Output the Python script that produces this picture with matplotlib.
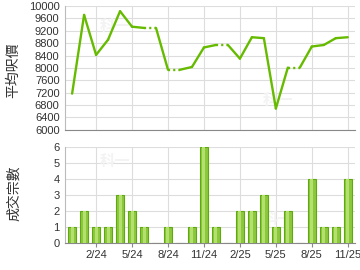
import numpy as np
import matplotlib
matplotlib.use("Agg")
import matplotlib.pyplot as plt

plt.rcParams['font.family'] = ['Liberation Sans', 'Noto Sans CJK TC', 'DejaVu Sans']

months = ["12/23", "1/24", "2/24", "3/24", "4/24", "5/24", "6/24", "7/24", "8/24", "9/24",
          "10/24", "11/24", "12/24", "1/25", "2/25", "3/25", "4/25", "5/25", "6/25", "7/25",
          "8/25", "9/25", "10/25", "11/25"]
avg_price = [7170, 9710, 8420, 8910, 9830, 9330, 9290, None, 7940, None,
             8030, 8660, 8740, None, 8300, 8990, 8960, 6690, 8010, None,
             8690, 8740, 8960, 8990]
deals = [1, 2, 1, 1, 3, 2, 1, 0, 1, 0, 1, 6, 1, 0, 2, 2, 3, 1, 2, 0, 4, 1, 1, 4]
tick_labels = ["2/24", "5/24", "8/24", "11/24", "2/25", "5/25", "8/25", "11/25"]

line_color = "#66bb00"
grid_color = "#dddddd"
text_color = "#333333"

# months with no deals keep the previous price
filled = []
for p in avg_price:
    filled.append(p if p is not None else filled[-1])

x = np.arange(len(months))
tick_pos = [months.index(t) for t in tick_labels]

fig = plt.figure(figsize=(3.6, 2.7), dpi=100)
ax1 = fig.add_axes([0.181, 0.519, 0.805, 0.459])
ax2 = fig.add_axes([0.181, 0.100, 0.805, 0.356])

for i in range(len(x) - 1):
    style = (0, (0.9, 1.3)) if avg_price[i + 1] is None else "-"
    ax1.plot(x[i:i + 2], filled[i:i + 2], color=line_color, lw=1.7, ls=style,
             solid_capstyle="round", zorder=3)

ax1.set_ylim(6000, 10000)
ax1.set_yticks(np.arange(6000, 10001, 400))
ax1.set_xticklabels([])

ax2.bar(x, deals, width=0.68, color="#8cc83c", edgecolor="#5fa810", linewidth=0.8, zorder=3)
ax2.bar(x, deals, width=0.25, color="#b4e070", linewidth=0, zorder=4,
        align="center")
ax2.set_ylim(0, 6)
ax2.set_yticks(range(7))
ax2.set_xticks(tick_pos)
ax2.set_xticklabels(tick_labels)

for ax in (ax1, ax2):
    ax.set_xlim(-0.58, 23.6)
    ax.set_xticks(tick_pos)
    ax.grid(True, color=grid_color, lw=0.8, zorder=0)
    ax.set_axisbelow(True)
    for s in ("top", "right"):
        ax.spines[s].set_visible(False)
    ax.spines["left"].set_color("#bbbbbb")
    ax.spines["bottom"].set_color("#888888")
    ax.tick_params(axis="y", length=0, labelsize=8, colors=text_color, pad=4)
    ax.tick_params(axis="x", length=3, color="#888888", labelsize=8, colors=text_color, pad=2)
    # faint watermark
    ax.text(0.12, 0.80, "科一", transform=ax.transAxes, fontsize=11, color="#f3f3f3",
            family=['Noto Sans CJK TC'], fontweight="bold", zorder=1)
    ax.text(0.68, 0.20, "科一", transform=ax.transAxes, fontsize=11, color="#f3f3f3",
            family=['Noto Sans CJK TC'], fontweight="bold", zorder=1)

ax1.tick_params(axis="x", length=0)

fig.text(0.036, 0.74, "平均呎價", rotation=90, va="center", ha="center",
         fontsize=10, color=text_color, family=['Noto Sans CJK TC'])
fig.text(0.039, 0.285, "成交宗數", rotation=90, va="center", ha="center",
         fontsize=10, color=text_color, family=['Noto Sans CJK TC'])

fig.savefig("out.png", dpi=100)
